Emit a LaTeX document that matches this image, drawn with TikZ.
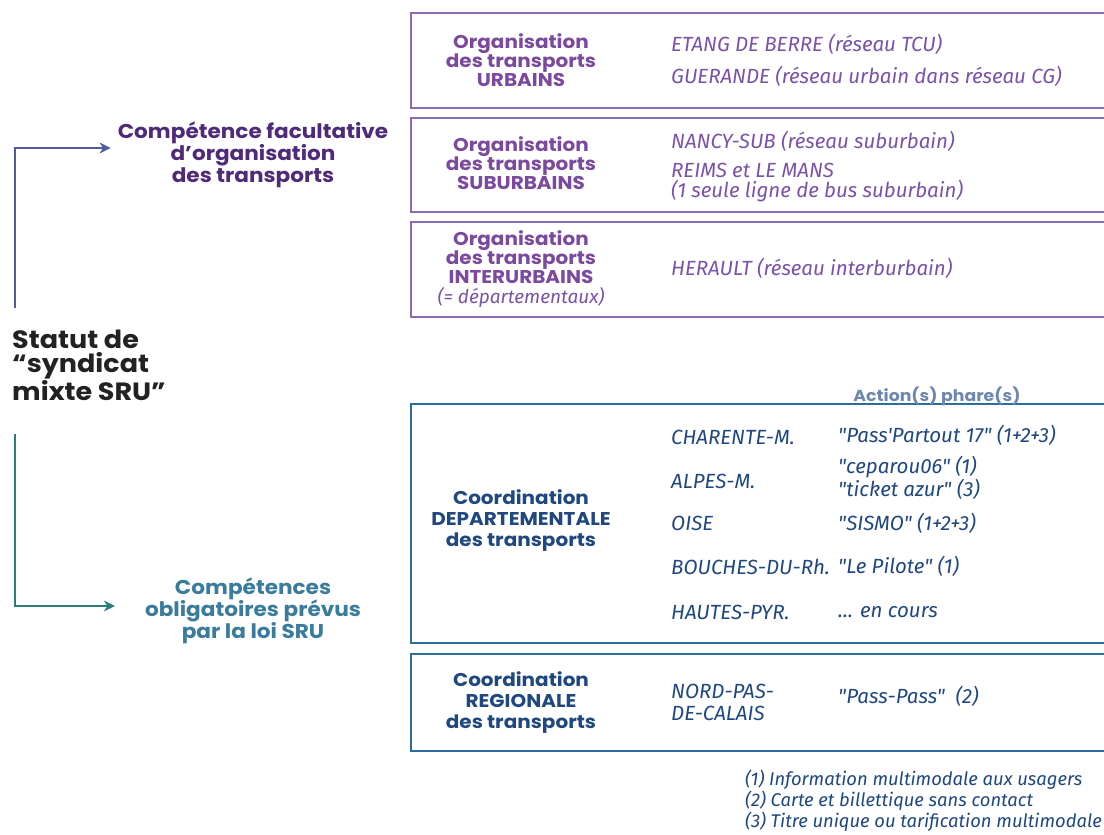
\documentclass[tikz,border=0pt]{standalone}
\usepackage{fontspec}
\usetikzlibrary{arrows.meta}
\newfontfamily\hfont[FakeStretch=1.08]{Poppins}
\newfontfamily\ifont{Fira Sans}
\definecolor{purpH}{HTML}{7B4A9E}
\definecolor{purpD}{HTML}{4E2A78}
\definecolor{purpI}{HTML}{7A52A8}
\definecolor{purpBox}{HTML}{8C6BB1}
\definecolor{navy}{HTML}{1F4780}
\definecolor{blueBox}{HTML}{2C6E9B}
\definecolor{tealT}{HTML}{3B7B9B}
\definecolor{tealA}{HTML}{2B7C80}
\definecolor{arrP}{HTML}{4F5AA0}
\definecolor{actG}{HTML}{6F86AE}
\definecolor{blk}{HTML}{222222}
\tikzset{
  pbox/.style={draw=purpBox, line width=1.3pt},
  bbox/.style={draw=blueBox, line width=1.3pt},
  head/.style={align=center, inner sep=0pt, font={\hfont\bfseries\fontsize{18.5}{19}\selectfont}},
  phead/.style={head, text=purpH},
  bhead/.style={head, text=navy, font={\hfont\bfseries\fontsize{18.5}{21}\selectfont}},
  item/.style={anchor=west, align=left, inner sep=0pt, font={\ifont\itshape\fontsize{20.5}{20}\selectfont}},
  pitem/.style={item, text=purpI},
  bitem/.style={item, text=navy},
  bighead/.style={align=center, inner sep=0pt, font={\hfont\bfseries\fontsize{20}{22}\selectfont}},
  arr/.style={line width=1.3pt, -{Stealth[length=11pt,width=11pt]}},
}
\begin{document}
\begin{tikzpicture}[x=1pt,y=-1pt]
\useasboundingbox (0,0) rectangle (1104,835);
\fill[white] (0,0) rectangle (1104,835);

% boxes
\draw[pbox] (1120,13) -| (411,108) -- (1120,108);
\draw[pbox] (1120,118) -| (411,212) -- (1120,212);
\draw[pbox] (1120,222) -| (411,317) -- (1120,317);
\draw[bbox] (1120,404) -| (411,643) -- (1120,643);
\draw[bbox] (1120,654) -| (411,751) -- (1120,751);

% left part
\node[anchor=north west, align=left, inner sep=0pt, text=blk,
  font={\hfont\bfseries\fontsize{25}{24}\selectfont}] (statut) at (12,330)
  {Statut de\\“syndicat\\mixte SRU”};
\node[bighead, text=purpD] (comp1) at (253,155) {Compétence facultative\\d’organisation\\des transports};
\node[bighead, text=tealT] (comp2) at (253,611) {Compétences\\obligatoires prévus\\par la loi SRU};

\draw[arr, arrP] ([xshift=3pt, yshift=22pt]statut.north west) |- ([xshift=-7pt, yshift=7pt]comp1.west);
\draw[arr, tealA] ([xshift=3pt, yshift=-33pt]statut.south west) |- ([xshift=-30pt, yshift=5pt]comp2.west);

% purple box headings
\node[phead] (h1) at (521,60) {Organisation\\des transports\\URBAINS};
\node[phead] (h2) at (521,163) {Organisation\\des transports\\SUBURBAINS};
\node[phead] (h3) at (521,257) {Organisation\\des transports\\INTERURBAINS};
\node[pitem, anchor=center, font={\ifont\itshape\fontsize{19}{20}\selectfont}] (h3i) at (521,298) {(= départementaux)};

\node[pitem] (u1) at (671,44) {ETANG DE BERRE (réseau TCU)};
\node[pitem] (u2) at (671,76) {GUERANDE (réseau urbain dans réseau CG)};
\node[pitem] (s1) at (671,141) {NANCY-SUB (réseau suburbain)};
\node[pitem] (s2) at (671,183) {REIMS et LE MANS\\(1 seule ligne de bus suburbain)};
\node[pitem] (i1) at (671,268) {HERAULT (réseau interburbain)};

% blue boxes
\node[inner sep=0pt, text=actG, font={\hfont\bfseries\fontsize{16}{17}\selectfont}] (act) at (937,396) {Action(s) phare(s)};
\node[bhead] (d1) at (521,521) {Coordination\\DEPARTEMENTALE\\des transports};
\node[bhead] (r1) at (521,703) {Coordination\\REGIONALE\\des transports};

\node[bitem] (c1) at (671,437) {CHARENTE-M.};
\node[bitem] (c2) at (671,481) {ALPES-M.};
\node[bitem] (c3) at (671,523) {OISE};
\node[bitem] (c4) at (671,567) {BOUCHES-DU-Rh.};
\node[bitem] (c5) at (671,612) {HAUTES-PYR.};
\node[bitem, font={\ifont\itshape\fontsize{20.5}{22}\selectfont}] (c6) at (671,702) {NORD-PAS-\\DE-CALAIS};

\node[bitem] (a1) at (838,435) {"Pass'Partout 17" (1+2+3)};
\node[bitem, font={\ifont\itshape\fontsize{20.5}{23}\selectfont}] (a2) at (838,478) {"ceparou06" (1)\\"ticket azur" (3)};
\node[bitem] (a3) at (838,523) {"SISMO" (1+2+3)};
\node[bitem] (a4) at (838,566) {"Le Pilote" (1)};
\node[bitem] (a5) at (838,612) {... en cours};
\node[bitem] (a6) at (838,696) {"Pass-Pass"\ \ (2)};

% footnotes
\node[bitem, font={\ifont\itshape\fontsize{18.4}{21}\selectfont}, anchor=north west] (fn) at (745,770)
  {(1) Information multimodale aux usagers\\(2) Carte et billettique sans contact\\(3) Titre unique ou tarification multimodale};
\end{tikzpicture}
\end{document}
